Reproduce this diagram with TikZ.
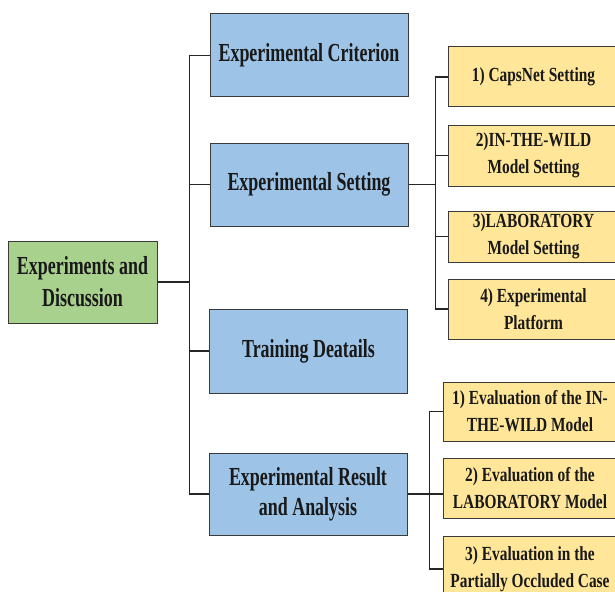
\documentclass[tikz,border=0pt]{standalone}
\usepackage{fontspec}
\setmainfont{Liberation Serif}
\newfontfamily\mainfam[FakeStretch=0.69]{Liberation Serif}
\newfontfamily\subfam[FakeStretch=0.77]{Liberation Serif}
\usetikzlibrary{positioning}
\definecolor{rootgreen}{HTML}{A9D18E}
\definecolor{boxblue}{HTML}{9DC3E6}
\definecolor{subyellow}{HTML}{FFE699}
\definecolor{edgegray}{HTML}{3A3A3A}

\begin{document}
\begin{tikzpicture}[
    x=1pt, y=-1pt,
    box/.style={draw=edgegray, line width=1pt, rectangle, align=center, inner sep=2pt, text=black!90},
    rootbox/.style={box, fill=rootgreen, minimum width=149pt, minimum height=82pt, font=\mainfam\bfseries\fontsize{26}{32}\selectfont},
    mainbox/.style={box, fill=boxblue, minimum width=198pt, minimum height=83pt, font=\mainfam\bfseries\fontsize{26}{30}\selectfont},
    subbox/.style={box, fill=subyellow, minimum width=171pt, minimum height=60pt, font=\subfam\bfseries\fontsize{20}{27}\selectfont},
    link/.style={draw=black!85, line width=1.2pt}
]
\useasboundingbox (0,0) rectangle (615,591);

% root and first level
\node[rootbox] (root) at (82.5,282) {Experiments and\\Discussion};
\node[mainbox] (crit) at (309,55.5) {Experimental Criterion};
\node[mainbox] (sett) at (309,184.5) {Experimental Setting};
\node[mainbox, minimum height=84pt] (train) at (308.5,351) {Training Deatails};
\node[mainbox, minimum height=82pt] (res) at (308,494) {Experimental Result\\and Analysis};

% setting details
\node[subbox] (s1) at (533.5,77) {1) CapsNet Setting};
\node[subbox, minimum height=61pt] (s2) at (533.5,155.5) {2)IN-THE-WILD\\Model Setting};
\node[subbox, minimum height=51pt] (s3) at (533.5,236.5) {3)LABORATORY\\Model Setting};
\node[subbox] (s4) at (533.5,309) {4) Experimental\\Platform};

% result details
\node[subbox, minimum width=174pt, minimum height=59pt] (r1) at (530,411.5) {1) Evaluation of the IN-\\THE-WILD Model};
\node[subbox, minimum width=174pt] (r2) at (530,488) {2) Evaluation of the\\LABORATORY Model};
\node[subbox, minimum width=174pt, minimum height=66pt] (r3) at (530,569) {3) Evaluation in the\\Partially Occluded Case};

% connectors
\draw[link] (root.east) -- ++(32,0) coordinate (j0);
\foreach \n in {crit,sett,train,res}
    \draw[link] (\n.west) -| (j0);
\draw[link] (sett.east) -- ++(27,0) coordinate (j1);
\foreach \n in {s1,s2,s3,s4}
    \draw[link] (\n.west) -| (j1);
\draw[link] (res.east) -- ++(22,0) coordinate (j2);
\draw[link] (res.east) -- (r2.west |- res.east);
\foreach \n in {r1,r3}
    \draw[link] (\n.west) -| (j2);
\end{tikzpicture}
\end{document}
